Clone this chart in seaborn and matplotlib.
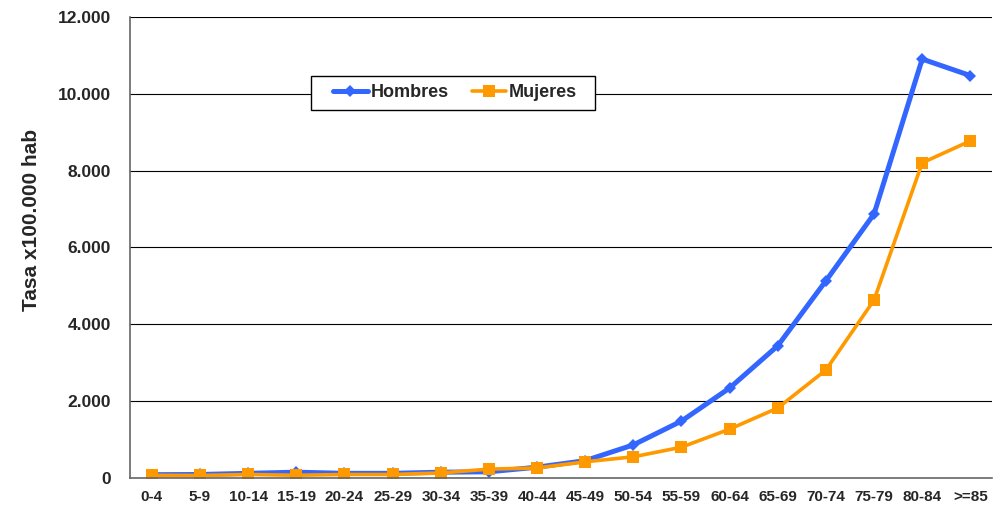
import numpy as np
import pandas as pd
import matplotlib
matplotlib.use("Agg")
import matplotlib.pyplot as plt
import seaborn as sns
from matplotlib.patches import Rectangle
from matplotlib.ticker import FuncFormatter

# ----------------------------- Data ----------------------------- #
grupos = ["0-4", "5-9", "10-14", "15-19", "20-24", "25-29", "30-34", "35-39", "40-44",
          "45-49", "50-54", "55-59", "60-64", "65-69", "70-74", "75-79", "80-84", ">=85"]
hombres = [85, 90, 120, 150, 120, 120, 150, 160, 280, 450, 860, 1480, 2340, 3440, 5130, 6870, 10900, 10470]
mujeres = [70, 65, 90, 70, 90, 90, 130, 230, 260, 420, 550, 800, 1270, 1820, 2810, 4630, 8200, 8770]

df = pd.DataFrame({"Grupo": grupos, "Hombres": hombres, "Mujeres": mujeres})

# ----------------------------- Plot ----------------------------- #
sns.set_style("white")
plt.rcParams["font.family"] = ["Liberation Sans", "DejaVu Sans"]

fig = plt.figure(figsize=(9.94, 5.09), dpi=100)
ax = fig.add_axes([0.131, 0.061, 0.867, 0.906])

sns.lineplot(data=df, x="Grupo", y="Hombres", ax=ax, color="#3366FF", linewidth=3.6,
             marker="D", markersize=6, markeredgewidth=0, label="Hombres", sort=False)
sns.lineplot(data=df, x="Grupo", y="Mujeres", ax=ax, color="#FF9900", linewidth=2.6,
             marker="s", markersize=8.5, markeredgewidth=0, label="Mujeres", sort=False)

ax.set_xlim(-0.45, len(grupos) - 0.55)
ax.set_ylim(0, 12000)
ax.set_yticks(np.arange(0, 12001, 2000))
ax.yaxis.set_major_formatter(FuncFormatter(lambda v, p: f"{int(v):,}".replace(",", ".")))
ax.grid(axis="y", color="black", linewidth=0.8)
ax.set_axisbelow(True)

for s in ["top", "right"]:
    ax.spines[s].set_visible(False)
for s in ["left", "bottom"]:
    ax.spines[s].set_color("#666666")
    ax.spines[s].set_linewidth(1.2)

ax.tick_params(axis="x", length=0, pad=9, labelsize=11)
ax.tick_params(axis="y", length=0, pad=14, labelsize=12.5)
for lbl in ax.get_xticklabels() + ax.get_yticklabels():
    lbl.set_fontweight("bold")

ax.set_xlabel("")
ax.set_ylabel("Tasa x100.000 hab", fontsize=15, fontweight="bold")
ax.yaxis.set_label_coords(-0.104, 0.56)

# legend box (Excel-style, wider than the entries)
box = Rectangle((0.3129, 0.7839), 0.2857, 0.0668, transform=fig.transFigure,
                facecolor="white", edgecolor="black", linewidth=1.0, zorder=4)
ax.add_patch(box)
leg = ax.legend(loc="center", bbox_to_anchor=(0.377, 0.835), ncol=2, frameon=False,
                handlelength=1.9, handletextpad=0.15, columnspacing=1.3,
                borderpad=0.4, borderaxespad=0, prop={"weight": "bold", "size": 13})
leg.set_zorder(5)

fig.savefig("out.png", dpi=100)
